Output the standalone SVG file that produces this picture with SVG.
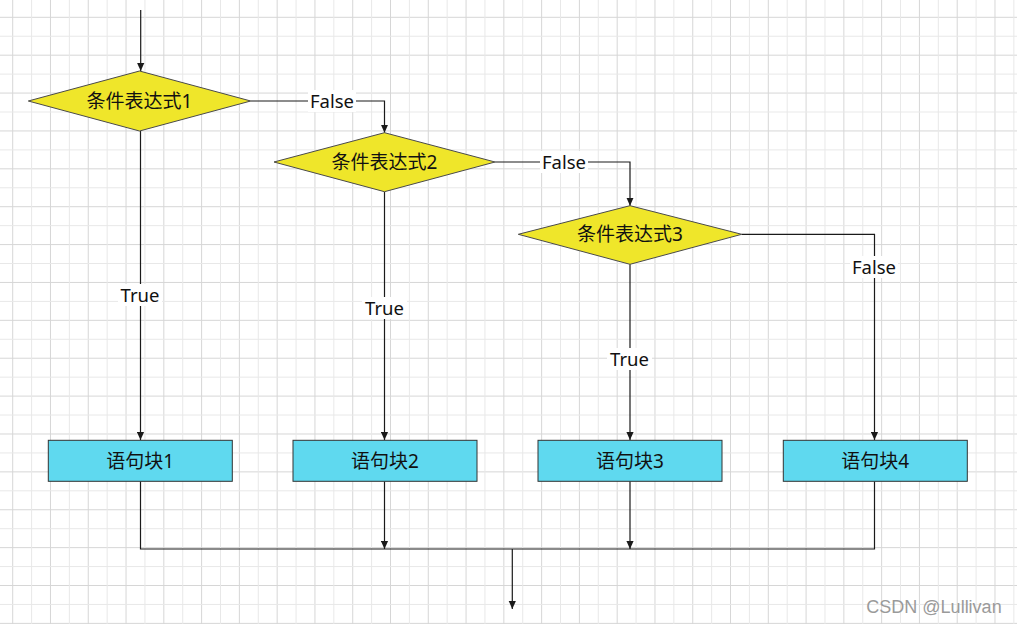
<svg xmlns="http://www.w3.org/2000/svg" width="1017" height="624" viewBox="0 0 1017 624">
<style>
.dia{fill:#efe62a;stroke:#4a4a4a;stroke-width:1}
.box{fill:#5fd9ef;stroke:#333;stroke-width:1}
.t{font-family:"Noto Sans","Noto Sans CJK SC",sans-serif;font-size:19px;fill:#111;text-anchor:middle}
.lbl{font-family:"Noto Sans","Noto Sans CJK SC",sans-serif;font-size:18.5px;fill:#111;text-anchor:middle}
.edge{fill:none;stroke:#1a1a1a;stroke-width:1.2}
.bg{fill:#fff}
</style>
<defs>
<pattern id="grid" patternUnits="userSpaceOnUse" x="12.2" y="16.8" width="37.78" height="37.88">
<rect x="0" y="0" width="1" height="37.88" fill="#d6d6d6"/>
<rect x="0" y="0" width="37.78" height="1" fill="#d6d6d6"/>
<rect x="18.89" y="0" width="1" height="37.88" fill="#e8e8e8"/>
<rect x="0" y="18.94" width="37.78" height="1" fill="#e8e8e8"/>
</pattern>
<marker id="arr" viewBox="0 0 10 10" refX="10" refY="5" markerWidth="8" markerHeight="8" markerUnits="userSpaceOnUse" orient="auto">
<path d="M0,0.5 L10,5 L0,9.5 Z" fill="#1a1a1a"/>
</marker>
</defs>
<rect width="1017" height="624" fill="#fff"/>
<rect width="1017" height="624" fill="url(#grid)"/>

<g id="connectors">
<path class="edge" d="M140.7 10 V71" marker-end="url(#arr)"/>
<path class="edge" d="M250.7 101 H384.5 V132.7" marker-end="url(#arr)"/>
<path class="edge" d="M140.5 131 V440" marker-end="url(#arr)"/>
<path class="edge" d="M495 162 H630 V205.7" marker-end="url(#arr)"/>
<path class="edge" d="M384.5 191.7 V440" marker-end="url(#arr)"/>
<path class="edge" d="M630 264.3 V440" marker-end="url(#arr)"/>
<path class="edge" d="M741.7 234.3 H874.5 V440" marker-end="url(#arr)"/>
<path class="edge" d="M140.5 481.3 V549 H874.5 V481.3"/>
<path class="edge" d="M384.5 481.3 V549" marker-end="url(#arr)"/>
<path class="edge" d="M630 481.3 V549" marker-end="url(#arr)"/>
<path class="edge" d="M512.3 549 V609" marker-end="url(#arr)"/>
<rect class="bg" x="308" y="90" width="48" height="22"/>
<text class="lbl" x="332" y="107.5">False</text>
<rect class="bg" x="540" y="151" width="48" height="22"/>
<text class="lbl" x="564" y="168.5">False</text>
<rect class="bg" x="850" y="256" width="48" height="22"/>
<text class="lbl" x="874" y="273.5">False</text>
<rect class="bg" x="118" y="284" width="44" height="22"/>
<text class="lbl" x="140" y="301.5">True</text>
<rect class="bg" x="362" y="297" width="45" height="22"/>
<text class="lbl" x="384.5" y="314.5">True</text>
<rect class="bg" x="607" y="348" width="45" height="22"/>
<text class="lbl" x="629.5" y="365.5">True</text>
</g>

<g id="cond1">
<polygon class="dia" points="28.3,101 139.5,71 250.7,101 139.5,131"/>
<text class="t" x="139.5" y="108">条件表达式1</text>
</g>
<g id="cond2">
<polygon class="dia" points="274,162 384.5,132.7 495,162 384.5,191.7"/>
<text class="t" x="384.5" y="169">条件表达式2</text>
</g>
<g id="cond3">
<polygon class="dia" points="518.3,234.3 630,205.7 741.7,234.3 630,264.3"/>
<text class="t" x="630" y="241">条件表达式3</text>
</g>
<g id="block1">
<rect class="box" x="48.3" y="440.3" width="184" height="41"/>
<text class="t" x="140.3" y="467.5">语句块1</text>
</g>
<g id="block2">
<rect class="box" x="293" y="440.3" width="184" height="41"/>
<text class="t" x="385" y="467.5">语句块2</text>
</g>
<g id="block3">
<rect class="box" x="538" y="440.3" width="184" height="41"/>
<text class="t" x="630" y="467.5">语句块3</text>
</g>
<g id="block4">
<rect class="box" x="783.3" y="440.3" width="184" height="41"/>
<text class="t" x="875.3" y="467.5">语句块4</text>
</g>
<text x="934" y="613" font-family="Liberation Sans, sans-serif" font-size="18" fill="#9a9a9a" text-anchor="middle">CSDN @Lullivan</text>
</svg>
